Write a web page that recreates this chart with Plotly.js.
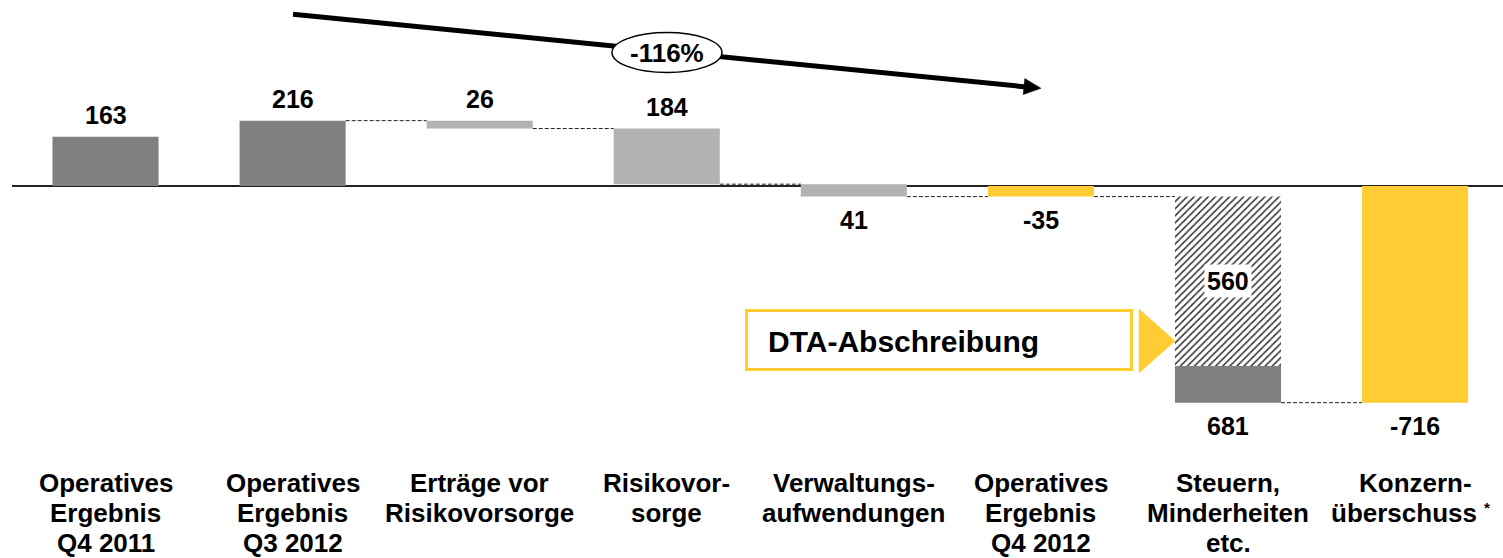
<!DOCTYPE html>
<html>
<head>
<meta charset="utf-8">
<script src="https://cdn.plot.ly/plotly-3.0.1.min.js"></script>
<style>html,body{margin:0;padding:0;background:#fff;}#chart{width:1503px;height:558px;}</style>
</head>
<body>
<div id="chart"></div>
<script>
// ---- data ----
const categories = [
  "Operatives<br>Ergebnis<br>Q4 2011",
  "Operatives<br>Ergebnis<br>Q3 2012",
  "Erträge vor<br>Risikovorsorge",
  "Risikovor-<br>sorge",
  "Verwaltungs-<br>aufwendungen",
  "Operatives<br>Ergebnis<br>Q4 2012",
  "Steuern,<br>Minderheiten<br>etc.",
  "Konzern-<br>überschuss*"
];
const measures = ["total","total","delta","delta","delta","total","delta","total"];
const values = [163, 216, -26, -184, -41, -35, -681, -716];
const barColors = ["#808080","#808080","#b2b2b2","#b2b2b2","#b2b2b2","#ffcc33","#808080","#ffcc33"];
const dtaCategoryIndex = 6;
const dtaValue = -560;
const dtaLabel = "DTA-Abschreibung";
const trendLabel = "-116%";

// ---- geometry helpers (page pixels -> paper fractions) ----
const W = 1503, H = 558, L = 12;
const px = x => (x - L) / (W - L);
const py = y => 1 - y / H;
const FONT = "Liberation Sans, Arial, Helvetica, sans-serif";
const BAR_W = 0.567;

// ---- waterfall computation ----
let level = 0;
const bases = [], lens = [], levelsAfter = [], mins = [], maxs = [];
values.forEach((v, i) => {
  let b;
  if (measures[i] === "total") { b = 0; level = v; }
  else { b = level; level = level + v; }
  bases.push(b); lens.push(v); levelsAfter.push(level);
  mins.push(Math.min(b, b + v)); maxs.push(Math.max(b, b + v));
});

// main trace (bar 7 keeps only the part below the DTA segment)
const mainBase = bases.slice(), mainLen = lens.slice();
mainBase[dtaCategoryIndex] = bases[dtaCategoryIndex] + dtaValue;
mainLen[dtaCategoryIndex] = lens[dtaCategoryIndex] - dtaValue;

const traces = [
  {
    type: "bar", x: categories, y: mainLen, base: mainBase, width: BAR_W,
    marker: { color: barColors, line: { width: 0 } },
    hoverinfo: "skip", showlegend: false
  },
  {
    type: "bar", x: [categories[dtaCategoryIndex]], y: [dtaValue], base: [bases[dtaCategoryIndex]], width: BAR_W,
    marker: { color: "white", line: { width: 0 },
      pattern: { shape: "/", fgcolor: "#333333", bgcolor: "white", size: 5, solidity: 0.3, fillmode: "replace" } },
    hoverinfo: "skip", showlegend: false
  }
];

const shapes = [];
const annotations = [];

// connectors
for (let i = 1; i < values.length - 1; i++) {
  shapes.push({
    type: "line", xref: "x", yref: "y",
    x0: i + BAR_W / 2, x1: i + 1 - BAR_W / 2, y0: levelsAfter[i], y1: levelsAfter[i],
    line: { color: "#222", width: 1, dash: "4px,2px" }, layer: "below"
  });
}

// value labels
values.forEach((v, i) => {
  const txt = measures[i] === "delta" ? String(Math.abs(v)) : String(v);
  const above = mins[i] >= 0;
  annotations.push({
    x: categories[i], y: above ? maxs[i] : mins[i], xref: "x", yref: "y",
    text: txt, showarrow: false, xanchor: "center", yanchor: "middle", yshift: above ? 22 : -23,
    font: { family: FONT, size: 25, color: "#000", weight: 700 }
  });
});

// DTA value label inside hatched segment
annotations.push({
  x: categories[dtaCategoryIndex], y: bases[dtaCategoryIndex] + dtaValue / 2, xref: "x", yref: "y",
  text: String(Math.abs(dtaValue)), showarrow: false, bgcolor: "white", borderpad: 2,
  xanchor: "center", yanchor: "middle",
  font: { family: FONT, size: 25, color: "#000", weight: 700 }
});

// category labels (one annotation per line; a trailing footnote mark is drawn small)
const lineY = [483, 513, 543];
categories.forEach((c, i) => {
  c.split("<br>").forEach((line, k) => {
    let t = line, mark = "";
    if (t.endsWith("*")) { mark = "*"; t = t.slice(0, -1); }
    annotations.push({
      x: categories[i], xref: "x", y: py(lineY[k]), yref: "paper",
      text: t, showarrow: false, xanchor: "center", yanchor: "middle", xshift: mark ? -11 : 0,
      font: { family: FONT, size: 26, color: "#000", weight: 700 }
    });
    if (mark) {
      annotations.push({
        x: categories[i], xref: "x", y: py(lineY[k] - 6), yref: "paper",
        text: mark, showarrow: false, xanchor: "left", yanchor: "middle", xshift: 67,
        font: { family: FONT, size: 15, color: "#000", weight: 700 }
      });
    }
  });
});

// trend arrow
shapes.push({ type: "line", xref: "paper", yref: "paper", layer: "above",
  x0: px(293), y0: py(14.3), x1: px(1026), y1: py(86.9), line: { color: "#000", width: 5 } });
shapes.push({ type: "path", xref: "paper", yref: "paper", layer: "above",
  path: `M ${px(1041)} ${py(88.3)} L ${px(1024.8)} ${py(78.6)} L ${px(1023.2)} ${py(94.6)} Z`,
  fillcolor: "#000", line: { color: "#000", width: 0.5 } });
shapes.push({ type: "circle", xref: "paper", yref: "paper", layer: "above",
  x0: px(612), x1: px(722), y0: py(72.5), y1: py(32.5),
  fillcolor: "#fff", opacity: 1, line: { color: "#000", width: 1.5 } });
annotations.push({ x: px(667), y: py(52.5), xref: "paper", yref: "paper", text: trendLabel,
  xanchor: "center", yanchor: "middle",
  showarrow: false, font: { family: FONT, size: 26, color: "#000", weight: 700 } });

// DTA callout box + triangle
shapes.push({ type: "rect", xref: "paper", yref: "paper", layer: "above",
  x0: px(746.5), x1: px(1131.5), y0: py(369.5), y1: py(310.5),
  fillcolor: "#fff", line: { color: "#ffcc33", width: 3 } });
shapes.push({ type: "path", xref: "paper", yref: "paper", layer: "above",
  path: `M ${px(1139)} ${py(309)} L ${px(1139)} ${py(373)} L ${px(1175)} ${py(341)} Z`,
  fillcolor: "#ffcc33", line: { color: "#ffcc33", width: 0.5 } });
annotations.push({ x: px(766), y: py(341), xref: "paper", yref: "paper", xanchor: "left", yanchor: "middle",
  text: dtaLabel, showarrow: false, font: { family: FONT, size: 30, color: "#000", weight: 700 } });

const layout = {
  width: W, height: H,
  margin: { l: L, r: 0, t: 0, b: 0, pad: 0 },
  paper_bgcolor: "#fff", plot_bgcolor: "#fff",
  barmode: "overlay",
  showlegend: false,
  xaxis: { type: "category", range: [-0.5, 7.47], showticklabels: false, showgrid: false,
    zeroline: false, showline: false, ticks: "", fixedrange: true },
  yaxis: { range: [-1229.3, 614.7], showticklabels: false, showgrid: false,
    zeroline: true, zerolinecolor: "#222", zerolinewidth: 1.5, showline: false, ticks: "", fixedrange: true },
  shapes: shapes,
  annotations: annotations,
  font: { family: FONT }
};

Plotly.newPlot("chart", traces, layout, { displayModeBar: false, staticPlot: true });
</script>
</body>
</html>
